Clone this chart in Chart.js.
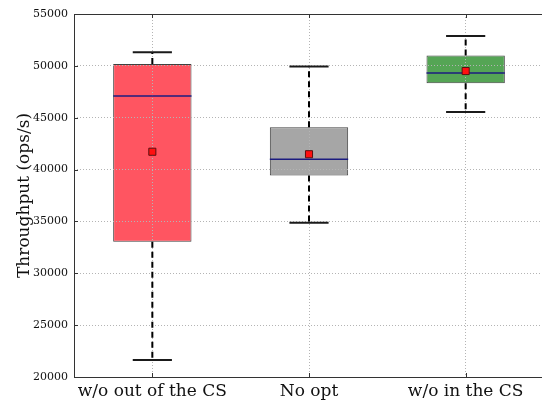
<!DOCTYPE html>
<html>
<head>
<meta charset="utf-8">
<script src="https://cdn.jsdelivr.net/npm/chart.js@4"></script>
<style>
    html, body { margin: 0; padding: 0; background: #fff; overflow: hidden; }
    #wrap { width: 542px; height: 403px; overflow: hidden; }
</style>
</head>
<body>
<div id="wrap"><canvas id="grafico" width="550" height="403"></canvas></div>
<script>
const categorias = ['w/o out of the CS', 'No opt', 'w/o in the CS'];
const minimos = [21650, 34880, 45550];
const q1 = [33050, 39420, 48320];
const medianas = [47100, 41000, 49320];
const q3 = [50180, 44080, 51000];
const maximos = [51300, 49950, 52880];
const medias = [41720, 41480, 49500];
const coresCaixa = ['#ff5561', '#a6a6a6', '#55a555'];
const ticksY = [20000, 25000, 30000, 35000, 40000, 45000, 50000, 55000];

const fonte = 'DejaVu Serif';

// whiskers, median lines, grid over the boxes and frame
const boxExtras = {
    id: 'boxExtras',
    afterDatasetDraw(chart, args) {
        if (args.meta.type !== 'bar') return;
        const ctx = chart.ctx;
        const x = chart.scales.x;
        const y = chart.scales.y;

        // grid on top of the boxes (matplotlib style)
        x.drawGrid(chart.chartArea);
        y.drawGrid(chart.chartArea);

        ctx.save();
        args.meta.data.forEach((bar, i) => {
            const cx = x.getPixelForValue(i);
            const half = bar.width / 2;

            // dashed whiskers
            ctx.strokeStyle = '#000';
            ctx.lineWidth = 2;
            ctx.setLineDash([6, 4]);
            ctx.beginPath();
            ctx.moveTo(cx, y.getPixelForValue(q3[i]));
            ctx.lineTo(cx, y.getPixelForValue(maximos[i]));
            ctx.moveTo(cx, y.getPixelForValue(q1[i]));
            ctx.lineTo(cx, y.getPixelForValue(minimos[i]));
            ctx.stroke();

            // caps
            ctx.setLineDash([]);
            ctx.strokeStyle = '#1a1a1a';
            ctx.beginPath();
            ctx.moveTo(cx - half / 2, y.getPixelForValue(maximos[i]));
            ctx.lineTo(cx + half / 2, y.getPixelForValue(maximos[i]));
            ctx.moveTo(cx - half / 2, y.getPixelForValue(minimos[i]));
            ctx.lineTo(cx + half / 2, y.getPixelForValue(minimos[i]));
            ctx.stroke();

            // median
            ctx.strokeStyle = '#1c1c80';
            ctx.lineWidth = 1.5;
            ctx.beginPath();
            ctx.moveTo(cx - half, y.getPixelForValue(medianas[i]));
            ctx.lineTo(cx + half, y.getPixelForValue(medianas[i]));
            ctx.stroke();
        });
        ctx.restore();
    },
    afterDraw(chart) {
        const ctx = chart.ctx;
        const a = chart.chartArea;
        const x = chart.scales.x;
        const y = chart.scales.y;
        ctx.save();
        ctx.strokeStyle = '#333';
        ctx.lineWidth = 1;
        // frame: left, top, bottom (right side falls outside the window)
        ctx.beginPath();
        ctx.moveTo(a.right + 2, a.top + 0.5);
        ctx.lineTo(a.left + 0.5, a.top + 0.5);
        ctx.lineTo(a.left + 0.5, a.bottom + 0.5);
        ctx.lineTo(a.right + 2, a.bottom + 0.5);
        ctx.stroke();
        // small inward ticks
        ctx.beginPath();
        categorias.forEach((c, i) => {
            const px = Math.round(x.getPixelForValue(i)) + 0.5;
            ctx.moveTo(px, a.bottom); ctx.lineTo(px, a.bottom - 4);
            ctx.moveTo(px, a.top); ctx.lineTo(px, a.top + 4);
        });
        ticksY.forEach(v => {
            const py = Math.round(y.getPixelForValue(v)) + 0.5;
            ctx.moveTo(a.left, py); ctx.lineTo(a.left + 4, py);
        });
        ctx.stroke();
        ctx.restore();
    }
};

const ctx = document.getElementById('grafico').getContext('2d');
const chart = new Chart(ctx, {
    type: 'bar',
    data: {
        labels: categorias,
        datasets: [{
            type: 'line',
            label: 'Média',
            data: medias,
            showLine: false,
            pointStyle: 'rect',
            pointRadius: 5,
            pointBackgroundColor: '#ff1010',
            pointBorderColor: '#5a1010',
            pointBorderWidth: 1,
            order: 0
        }, {
            label: 'Caixas',
            data: categorias.map((c, i) => [q1[i], q3[i]]),
            backgroundColor: coresCaixa,
            borderColor: '#404040',
            borderWidth: 1,
            borderSkipped: false,
            categoryPercentage: 1,
            barPercentage: 0.5,
            order: 2
        }]
    },
    options: {
        responsive: false,
        animation: false,
        layout: { padding: { top: 14, right: 1, left: 0, bottom: 0 } },
        plugins: {
            legend: { display: false },
            tooltip: { enabled: false },
            title: { display: false }
        },
        scales: {
            x: {
                grid: { color: '#b4b4b4', lineWidth: 1, drawTicks: false, offset: false },
                border: { display: false, dash: [1, 2] },
                ticks: { color: '#111', padding: 4, maxRotation: 0, font: { family: fonte, size: 17 } },
                afterFit(scale) {
                    scale.height = 26;
                    scale.paddingLeft = 0;
                    scale.paddingRight = 0;
                }
            },
            y: {
                min: 20000,
                max: 55000,
                grid: { color: '#b4b4b4', lineWidth: 1, drawTicks: false },
                border: { display: false, dash: [1, 2] },
                ticks: {
                    stepSize: 5000,
                    color: '#111',
                    padding: 6,
                    font: { family: fonte, size: 11 },
                    callback: v => String(v)
                },
                title: {
                    display: true,
                    text: 'Throughput (ops/s)',
                    color: '#111',
                    font: { family: fonte, size: 17 },
                    padding: { top: 14, bottom: 0 }
                },
                afterFit(scale) { scale.width = 74; }
            }
        }
    },
    plugins: [boxExtras]
});
</script>
</body>
</html>
